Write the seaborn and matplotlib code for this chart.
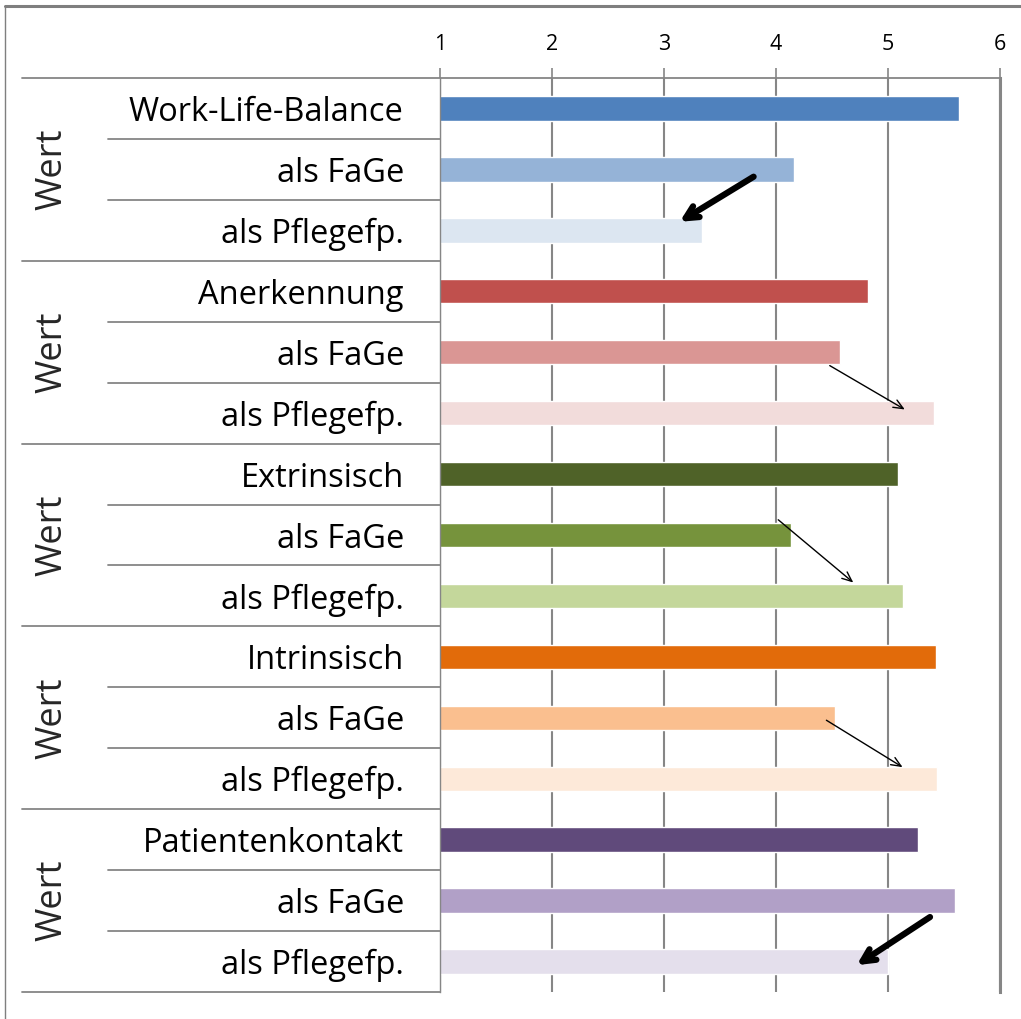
import matplotlib
matplotlib.use("Agg")
import matplotlib.pyplot as plt
import matplotlib.transforms as mtransforms
from matplotlib.lines import Line2D
import numpy as np
import pandas as pd
import seaborn as sns

# data
labels = ["Work-Life-Balance", "als FaGe", "als Pflegefp.",
          "Anerkennung", "als FaGe", "als Pflegefp.",
          "Extrinsisch", "als FaGe", "als Pflegefp.",
          "Intrinsisch", "als FaGe", "als Pflegefp.",
          "Patientenkontakt", "als FaGe", "als Pflegefp."]
values = [5.63, 4.16, 3.34,
          4.82, 4.57, 5.41,
          5.09, 4.13, 5.13,
          5.43, 4.53, 5.44,
          5.27, 5.60, 5.00]
colors = ["#4F81BD", "#95B3D7", "#DCE6F1",
          "#C0504D", "#DA9694", "#F2DCDB",
          "#4F6228", "#76933C", "#C4D79B",
          "#E26B0A", "#FABF8F", "#FDE9D9",
          "#604A7B", "#B1A0C7", "#E4DFEC"]
group_label = "Wert"
x_ticks = [1, 2, 3, 4, 5, 6]

# arrows: (x_start, row_start, x_end, row_end, thick)
arrows = [(3.80, 1.12, 3.14, 1.86, True),
          (4.48, 4.22, 5.15, 4.94, False),
          (4.02, 6.75, 4.69, 7.78, False),
          (4.45, 10.04, 5.13, 10.81, False),
          (5.375, 13.27, 4.72, 14.06, True)]

sns.set_style("white")
plt.rcParams["font.family"] = ["Open Sans", "DejaVu Sans"]

df = pd.DataFrame({"row": [str(i) for i in range(len(values))], "value": values})

W, H = 1021, 1019
fig = plt.figure(figsize=(W / 100, H / 100), dpi=100)
ax = fig.add_axes([440 / W, 1 - 992 / H, 560 / W, 914 / H])

sns.barplot(data=df, x="value", y="row", hue="row", palette=colors,
            legend=False, width=0.4, ax=ax, saturation=1, orient="h")

grey = "#868686"
ax.set_xlim(1, 6)
ax.set_ylim(len(values) - 0.5, -0.5)
ax.set_xlabel("")
ax.set_ylabel("")
ax.xaxis.tick_top()
ax.set_xticks(x_ticks)
ax.set_xticklabels([str(t) for t in x_ticks])
ax.tick_params(axis="x", length=7.5, width=1.2, color=grey, pad=9,
               labelsize=15.5, labelcolor="black")
ax.set_yticks(range(len(labels)))
ax.set_yticklabels(labels)
ax.tick_params(axis="y", length=0, pad=26, labelsize=23.5, labelcolor="black")
ax.grid(axis="x", color=grey, lw=1.5)
ax.set_axisbelow(True)
for side in ["top", "bottom"]:
    ax.spines[side].set_visible(False)
ax.spines["left"].set_color(grey)
ax.spines["left"].set_linewidth(1.0)
ax.spines["right"].set_color(grey)
ax.spines["right"].set_linewidth(2.2)

# separators in the label column
trans = mtransforms.blended_transform_factory(fig.transFigure, ax.transData)
x_axis = 440 / W
fig.add_artist(Line2D([22 / W, 1000 / W], [-0.5, -0.5], transform=trans,
                      color=grey, lw=1.3))
for i in range(1, len(labels) + 1):
    y = i - 0.5
    x0 = 22 / W if i % 3 == 0 else 108 / W
    fig.add_artist(Line2D([x0, x_axis], [y, y], transform=trans,
                          color=grey, lw=1.3))

# group labels
for g in range(5):
    fig.text(52 / W, 3 * g + 1, group_label, transform=trans, rotation=90,
             ha="center", va="center", fontsize=26)

# arrows
for x0, y0, x1, y1, thick in arrows:
    if thick:
        ax.annotate("", xy=(x1, y1), xytext=(x0, y0),
                    arrowprops=dict(arrowstyle="->,head_length=0.9,head_width=0.45",
                                    color="black", lw=4.5, shrinkA=0, shrinkB=0,
                                    capstyle="round", joinstyle="round"))
    else:
        ax.annotate("", xy=(x1, y1), xytext=(x0, y0),
                    arrowprops=dict(arrowstyle="->,head_length=0.7,head_width=0.3",
                                    color="black", lw=1, shrinkA=0, shrinkB=0))

# outer frame
fig.add_artist(Line2D([5 / W, 1], [1 - 6 / H, 1 - 6 / H], transform=fig.transFigure,
                      color="#7F7F7F", lw=2.2))
fig.add_artist(Line2D([5 / W, 5 / W], [0, 1 - 6 / H], transform=fig.transFigure,
                      color="#7F7F7F", lw=1.0))

fig.savefig("out.png", dpi=100)
